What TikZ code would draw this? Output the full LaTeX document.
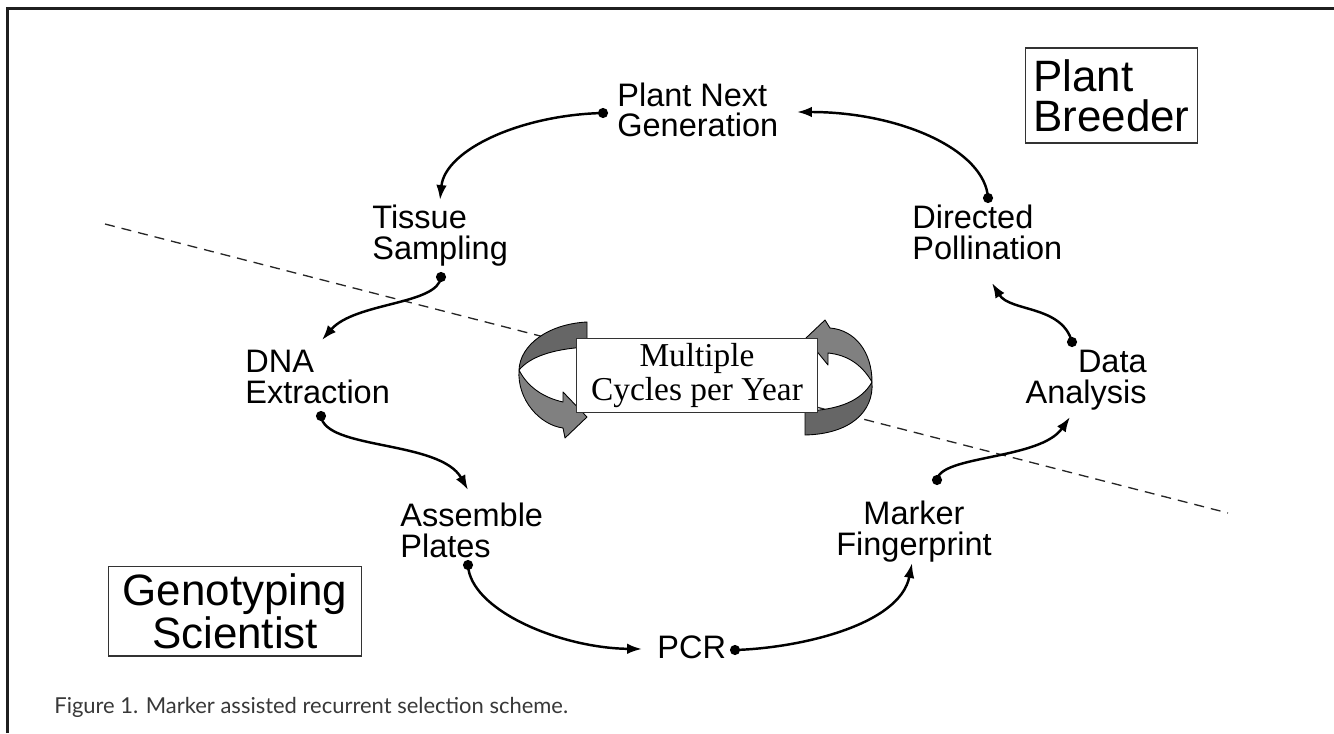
\documentclass[tikz,border=0pt]{standalone}
\usepackage{fontspec}
\setmainfont{Liberation Sans}
\newfontfamily\timesfont{Liberation Serif}
\newfontfamily\capfont{Lato}
\usetikzlibrary{arrows.meta}
\tikzset{
  stage/.style={font=\fontsize{18.5}{17.3}\selectfont, inner sep=0pt, align=left},
  role/.style={draw=black!80, line width=0.8pt, font=\fontsize{25}{22.7}\selectfont, inner sep=0pt},
  dot/.style={circle, fill=black, inner sep=0pt, minimum size=5.8pt},
  flow/.style={line width=1.4pt, -{Latex[length=8.5pt,width=6pt]}},
  divider/.style={black!85, line width=0.75pt, dash pattern=on 5.7pt off 4pt},
  swdark/.style={fill=black!60, draw=black, line width=0.5pt, line join=round},
  swlight/.style={fill=black!50, draw=black, line width=0.5pt, line join=round}
}

\begin{document}
\begin{tikzpicture}[x=0.02cm, y=-0.02cm]
\useasboundingbox (0,0) rectangle (1334,733);

% frame
\draw[black!88, line width=1.9pt] (7.7,733) -- (7.7,8.3) -- (1334,8.3);

% divider
\coordinate (divL) at (105,224);
\coordinate (divR) at (1228,513);
\draw[divider] (divL) -- (divR);

% swirl left
\draw[swdark] (587,322) .. controls (548,324) and (520,345) .. (519,370)
  .. controls (530,357) and (552,349) .. (587,347) -- cycle;
\draw[swlight] (519,370) .. controls (517,400) and (540,425) .. (563,428)
  -- (565,438) -- (587,417) -- (563,392) -- (563,402)
  .. controls (545,398) and (528,388) .. (519,370) -- cycle;

% swirl right
\draw[swdark] (872,382) .. controls (874,412) and (850,434) .. (805,435)
  -- (805,411) .. controls (840,410) and (862,400) .. (872,382) -- cycle;
\draw[swlight] (830,328) .. controls (855,330) and (872,352) .. (872,382)
  .. controls (862,365) and (848,355) .. (828,353) -- (828,365)
  -- (806,338) -- (825,320) -- cycle;

% centre
\node[draw=black!80, fill=white, line width=0.7pt, minimum width=137pt, minimum height=42.5pt,
  inner sep=0pt, align=center, font=\timesfont\fontsize{19}{19.3}\selectfont] (cycles)
  at (697,375.5) {Multiple\\Cycles per Year};

% roles
\node[role, align=left, minimum width=98pt, minimum height=54pt] (breeder) at (1111.5,95.5) {Plant\\Breeder};
\node[role, align=center, minimum width=144pt, minimum height=51pt] (scientist) at (235,611) {Genotyping\\Scientist};

% stages (base = last line)
\node[stage, anchor=base west] (gen) at (617,137) {Plant Next\\Generation};
\node[stage, anchor=base west] (tissue) at (372,259) {Tissue\\Sampling};
\node[stage, anchor=base west] (dna) at (245,403) {DNA\\Extraction};
\node[stage, anchor=base west] (plates) at (400,557) {Assemble\\Plates};
\node[stage, anchor=base west] (pcr) at (657,658) {PCR};
\node[stage, anchor=base, align=center] (marker) at (914,555) {Marker\\Fingerprint};
\node[stage, anchor=base east, align=right] (data) at (1147,403) {Data\\Analysis};
\node[stage, anchor=base west] (pollin) at (912,259) {Directed\\Pollination};

% dots
\node[dot] (gen-d) at (603,113) {};
\node[dot] (tissue-d) at (441,277) {};
\node[dot] (dna-d) at (321,416) {};
\node[dot] (plates-d) at (468,565) {};
\node[dot] (pcr-d) at (735,650) {};
\node[dot] (marker-d) at (937,480) {};
\node[dot] (data-d) at (1072,342) {};
\node[dot] (pollin-d) at (988,198) {};

% arrow tips
\coordinate (tissue-in) at (440,200);
\coordinate (dna-in) at (322,340);
\coordinate (plates-in) at (468,490);
\coordinate (pcr-in) at (642,649);
\coordinate (marker-in) at (912,563);
\coordinate (data-in) at (1070,417);
\coordinate (pollin-in) at (992,283);
\coordinate (gen-in) at (797,112);

% cycle
\draw[flow] (gen-d.center) .. controls (520,115) and (445,150) .. (tissue-in);
\draw[flow] (tissue-d.center) .. controls (438,305) and (355,302) .. (dna-in);
\draw[flow] (dna-d.center) .. controls (325,450) and (440,440) .. (plates-in);
\draw[flow] (plates-d.center) .. controls (470,610) and (560,648) .. (pcr-in);
\draw[flow] (pcr-d.center) .. controls (800,648) and (900,625) .. (marker-in);
\draw[flow] (marker-d.center) .. controls (940,455) and (1040,460) .. (data-in);
\draw[flow] (data-d.center) .. controls (1062,305) and (1010,312) .. (pollin-in);
\draw[flow] (pollin-d.center) .. controls (985,150) and (900,112) .. (gen-in);

% caption
\node[anchor=base west, inner sep=0pt, font=\capfont\fontsize{12.5}{14}\selectfont, text=black!78]
  (caption) at (54,713) {Figure 1. Marker assisted recurrent selection scheme.};
\end{tikzpicture}
\end{document}
